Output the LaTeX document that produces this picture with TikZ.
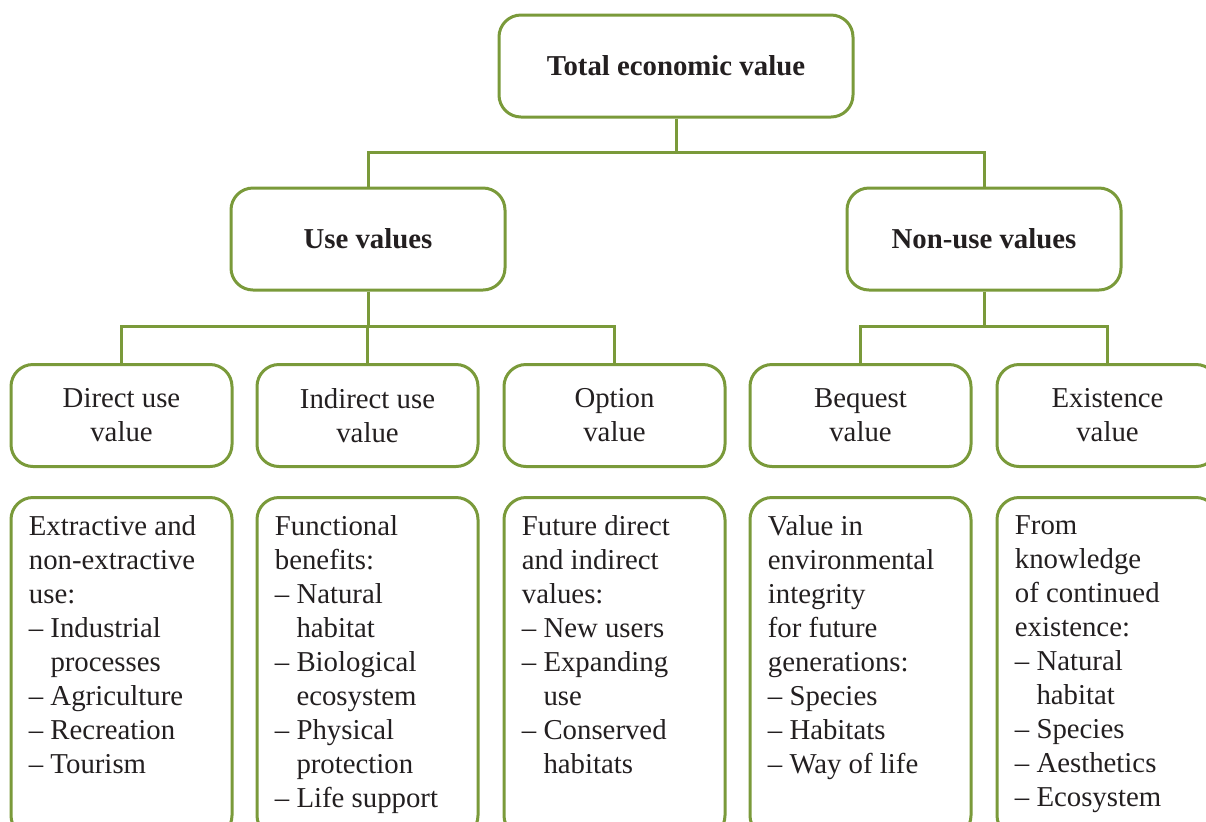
\documentclass[tikz,border=0pt]{standalone}
\usepackage{fontspec}
\setmainfont{Liberation Serif}
\usetikzlibrary{positioning}
\definecolor{g0}{RGB}{122,154,58}
\definecolor{t0}{RGB}{35,31,32}
\tikzset{%
  box/.style={draw=g0,line width=1.5pt,rounded corners=11pt,align=center,
    text=t0,minimum width=#1,minimum height=51pt,inner sep=0pt},
  box/.default=110.5pt,
  detail/.style={draw=g0,line width=1.5pt,rounded corners=11pt,anchor=north,
    minimum width=110.5pt,minimum height=170pt},
  note/.style={align=left,text=t0,inner sep=0pt},
  link/.style={draw=g0,line width=1.5pt}
}
\newcommand\bl{\hphantom{– }}

\begin{document}
\begin{tikzpicture}[x=0.5pt,y=-0.5pt,font=\fontsize{14.4pt}{17pt}\selectfont]
  \useasboundingbox (0,0) rectangle (1206,821);
  %% top levels
  \node[box=177pt] (tev) at (676,66) {\textbf{Total economic value}};
  \node[box=137pt] (use) at (368,239) {\textbf{Use values}};
  \node[box=137pt] (non) at (984,239) {\textbf{Non-use values}};
  %% value types
  \node[box] (dv) at (121.5,415.5) {Direct use\\value};
  \node[box] (iv) at (367.5,415.5) {Indirect use\\value};
  \node[box] (ov) at (614.5,415.5) {Option\\value};
  \node[box] (bv) at (860.5,415.5) {Bequest\\value};
  \node[box] (ev) at (1107.5,415.5) {Existence\\value};
  %% details
  \node[detail] (dd) at (121.5,496) {};
  \node[detail] (id) at (367.5,496) {};
  \node[detail] (od) at (614.5,496) {};
  \node[detail] (bd) at (860.5,496) {};
  \node[detail] (ed) at (1107.5,496) {};
  \node[note,below right=9.5pt and 9.5pt of dd.north west] (ddt)
    {Extractive and\\non-extractive\\use:\\– Industrial\\\bl processes\\– Agriculture\\– Recreation\\– Tourism};
  \node[note,below right=9.5pt and 9.5pt of id.north west] (idt)
    {Functional\\benefits:\\– Natural\\\bl habitat\\– Biological\\\bl ecosystem\\– Physical\\\bl protection\\– Life support};
  \node[note,below right=9.5pt and 9.5pt of od.north west] (odt)
    {Future direct\\and indirect\\values:\\– New users\\– Expanding\\\bl use\\– Conserved\\\bl habitats};
  \node[note,below right=9.5pt and 9.5pt of bd.north west] (bdt)
    {Value in\\environmental\\integrity\\for future\\generations:\\– Species\\– Habitats\\– Way of life};
  \node[note,below right=9.5pt and 9.5pt of ed.north west] (edt)
    {From\\knowledge\\of continued\\existence:\\– Natural\\\bl habitat\\– Species\\– Aesthetics\\– Ecosystem};
  %% connectors
  \draw[link] (tev.south) -- ++(0,34) -| (use.north);
  \draw[link] (tev.south) -- ++(0,34) -| (non.north);
  \draw[link] (use.south) -- ++(0,35) -| (dv.north);
  \draw[link] (use.south) -- ++(0,35) -| (iv.north);
  \draw[link] (use.south) -- ++(0,35) -| (ov.north);
  \draw[link] (non.south) -- ++(0,35) -| (bv.north);
  \draw[link] (non.south) -- ++(0,35) -| (ev.north);
\end{tikzpicture}
\end{document}
